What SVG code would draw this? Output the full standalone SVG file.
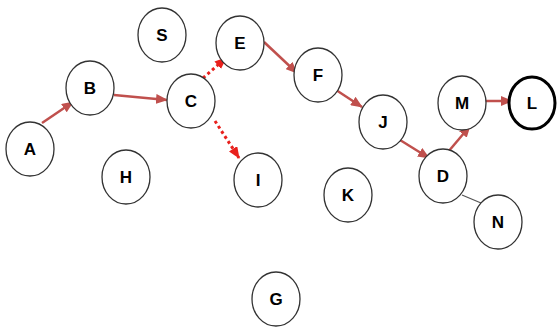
<svg xmlns="http://www.w3.org/2000/svg" width="558" height="327" viewBox="0 0 558 327">
<style>
.n ellipse{fill:#fff;stroke:#333;stroke-width:1.3}
.n text{font-family:"Liberation Sans",Arial,sans-serif;font-weight:bold;font-size:17px;fill:#000;text-anchor:middle}
.s{stroke:#c0504d;stroke-width:2.5;fill:none}
.d{stroke:#e8201c;stroke-width:3;stroke-dasharray:3 3;fill:none}
.p{stroke:#555;stroke-width:1.3;fill:none}
</style>
<defs>
<marker id="ah" markerUnits="userSpaceOnUse" markerWidth="12" markerHeight="10" refX="11" refY="5" orient="auto"><path d="M0,0 L12,5 L0,10 Z" fill="#c0504d"/></marker>
<marker id="ad" markerUnits="userSpaceOnUse" markerWidth="12" markerHeight="10" refX="11" refY="5" orient="auto"><path d="M0,0 L12,5 L0,10 Z" fill="#e8201c"/></marker>
</defs>
<rect width="558" height="327" fill="#fff"/>
<g id="connectors">
<line class="s" x1="42" y1="123" x2="73" y2="102" marker-end="url(#ah)"/>
<line class="s" x1="114" y1="95" x2="167" y2="100" marker-end="url(#ah)"/>
<line class="d" x1="203" y1="78" x2="226" y2="58" marker-end="url(#ad)"/>
<line class="d" x1="215" y1="121" x2="239" y2="158" marker-end="url(#ad)"/>
<line class="s" x1="264" y1="42" x2="297" y2="73" marker-end="url(#ah)"/>
<line class="s" x1="333" y1="88" x2="362" y2="107" marker-end="url(#ah)"/>
<line class="s" x1="400" y1="140" x2="429" y2="158" marker-end="url(#ah)"/>
<line class="s" x1="448" y1="152" x2="470" y2="126" marker-end="url(#ah)"/>
<line class="s" x1="485" y1="101" x2="512" y2="101" marker-end="url(#ah)"/>
<line class="p" x1="462" y1="195" x2="481" y2="203"/>
</g>
<g id="A" class="n"><ellipse cx="30" cy="149" rx="24" ry="27"/><text x="30" y="155">A</text></g>
<g id="B" class="n"><ellipse cx="90" cy="88" rx="24" ry="27"/><text x="90" y="94">B</text></g>
<g id="C" class="n"><ellipse cx="191" cy="101" rx="24" ry="27"/><text x="191" y="107">C</text></g>
<g id="S" class="n"><ellipse cx="162" cy="35" rx="24" ry="27"/><text x="162" y="41">S</text></g>
<g id="E" class="n"><ellipse cx="240" cy="43" rx="24" ry="27"/><text x="240" y="49">E</text></g>
<g id="F" class="n"><ellipse cx="318" cy="75" rx="24" ry="27"/><text x="318" y="81">F</text></g>
<g id="J" class="n"><ellipse cx="383" cy="122" rx="24" ry="27"/><text x="383" y="128">J</text></g>
<g id="M" class="n"><ellipse cx="462" cy="103" rx="24" ry="27"/><text x="462" y="109">M</text></g>
<g id="L" class="n"><ellipse cx="532" cy="103" rx="23" ry="26" style="stroke:#000;stroke-width:3"/><text x="532" y="109">L</text></g>
<g id="D" class="n"><ellipse cx="443" cy="176" rx="24" ry="27"/><text x="443" y="182">D</text></g>
<g id="N" class="n"><ellipse cx="498" cy="222" rx="24" ry="27"/><text x="498" y="228">N</text></g>
<g id="K" class="n"><ellipse cx="348" cy="195" rx="24" ry="27"/><text x="348" y="201">K</text></g>
<g id="H" class="n"><ellipse cx="126" cy="177" rx="24" ry="27"/><text x="126" y="183">H</text></g>
<g id="I" class="n"><ellipse cx="258" cy="180" rx="24" ry="27"/><text x="258" y="186">I</text></g>
<g id="G" class="n"><ellipse cx="276" cy="299" rx="24" ry="27"/><text x="276" y="305">G</text></g>
</svg>
